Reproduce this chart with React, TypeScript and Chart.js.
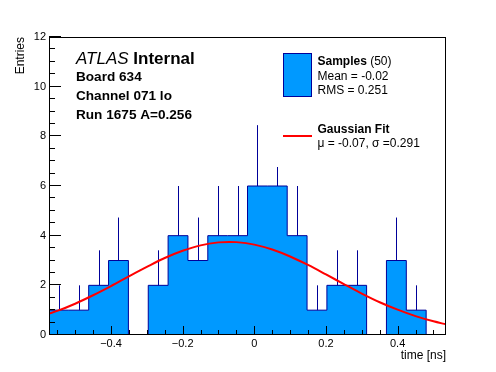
import React, { useEffect, useRef } from "react";
import { Chart, registerables } from "chart.js";

Chart.register(...registerables);

// ---- Data ----
const binEdges = [
  -0.573, -0.5176, -0.4622, -0.4068, -0.3514, -0.296, -0.2406, -0.1852, -0.1298, -0.0744,
  -0.019, 0.0364, 0.0918, 0.1472, 0.2026, 0.258, 0.3134, 0.3688, 0.4242, 0.4796, 0.535,
];
const counts = [1, 1, 2, 3, 0, 2, 4, 3, 4, 4, 6, 6, 4, 1, 2, 2, 0, 3, 1, 0];
const errUp = [1, 1, 1.41, 1.73, 0, 1.41, 2, 1.73, 2, 2, 2.45, 2.45, 2, 1, 1.41, 1.41, 0, 1.73, 1, 0];

const fitX = [
  -0.573, -0.55, -0.5, -0.45, -0.4, -0.35, -0.3, -0.25, -0.2, -0.15, -0.1, -0.07, -0.05,
  0.0, 0.05, 0.1, 0.15, 0.2, 0.25, 0.3, 0.35, 0.4, 0.45, 0.5, 0.535,
];
const fitY = [
  0.86, 0.97, 1.26, 1.6, 1.97, 2.36, 2.74, 3.1, 3.39, 3.61, 3.73, 3.75, 3.74,
  3.64, 3.44, 3.16, 2.82, 2.44, 2.05, 1.67, 1.32, 1.02, 0.76, 0.55, 0.43,
];

const xTickValues = [-0.4, -0.2, 0, 0.2, 0.4];
const yTickValues = [0, 2, 4, 6, 8, 10, 12];
const xMin = -0.573;
const xMax = 0.535;
const yMin = 0;
const yMax = 12;
const xMinorStep = 0.05;
const yMinorStep = 0.5;

const xTitle = "time [ns]";
const yTitle = "Entries";
const atlasLabel = "ATLAS";
const atlasSub = "Internal";
const infoLines = ["Board 634", "Channel 071 lo", "Run 1675 A=0.256"];
const legendHistName = "Samples";
const legendHistCount = "(50)";
const legendHistStats = ["Mean = -0.02", "RMS = 0.251"];
const legendFitName = "Gaussian Fit";
const legendFitStats = "\u03BC = -0.07, \u03C3 =0.291";

// ---- Style ----
const FONT = "'Liberation Sans', Arial, Helvetica, sans-serif";
const FILL = "#0099ff";
const EDGE = "#000099";
const RED = "#ff0000";

const rootPlugin = {
  id: "rootStyle",
  afterDatasetDraw(chart: any, args: any) {
    if (args.index !== 1) return;
    const { ctx } = chart;
    const x = chart.scales.x;
    const y = chart.scales.y;
    ctx.save();
    ctx.strokeStyle = EDGE;
    ctx.lineWidth = 1;
    counts.forEach((c, i) => {
      if (errUp[i] <= 0) return;
      const cx = Math.round(x.getPixelForValue((binEdges[i] + binEdges[i + 1]) / 2)) + 0.5;
      ctx.beginPath();
      ctx.moveTo(cx, y.getPixelForValue(c));
      ctx.lineTo(cx, y.getPixelForValue(c + errUp[i]));
      ctx.stroke();
    });
    ctx.restore();
  },
  afterDraw(chart: any) {
    const { ctx, chartArea } = chart;
    const x = chart.scales.x;
    const y = chart.scales.y;
    const { left, right, top, bottom } = chartArea;
    ctx.save();

    // Legend background (white box covering what lies beneath)
    ctx.fillStyle = "#ffffff";
    ctx.fillRect(272, 44, 168, 123);

    // Frame
    ctx.strokeStyle = "#000000";
    ctx.lineWidth = 1;
    ctx.strokeRect(Math.round(left) + 0.5, Math.round(top) + 0.5, Math.round(right - left) - 1, Math.round(bottom - top) - 1);

    // Y ticks
    const yMajLen = 12;
    const yMinLen = 6;
    ctx.beginPath();
    for (let v = yMin; v <= yMax + 1e-9; v += yMinorStep) {
      const isMajor = yTickValues.some((t) => Math.abs(t - v) < 1e-6);
      const py = Math.round(y.getPixelForValue(v)) - 0.5;
      ctx.moveTo(left, py);
      ctx.lineTo(left + (isMajor ? yMajLen : yMinLen), py);
    }
    // X ticks
    const xMajLen = 9;
    const xMinLen = 5;
    const start = Math.ceil(xMin / xMinorStep) * xMinorStep;
    for (let v = start; v <= xMax + 1e-9; v += xMinorStep) {
      const isMajor = xTickValues.some((t) => Math.abs(t - v) < 1e-6);
      const px = Math.round(x.getPixelForValue(v)) + 0.5;
      ctx.moveTo(px, bottom);
      ctx.lineTo(px, bottom - (isMajor ? xMajLen : xMinLen));
    }
    ctx.stroke();

    // Axis titles
    ctx.fillStyle = "#000000";
    ctx.font = `12px ${FONT}`;
    ctx.textAlign = "right";
    ctx.textBaseline = "alphabetic";
    ctx.fillText(xTitle, right, 359);
    ctx.save();
    ctx.translate(24, top);
    ctx.rotate(-Math.PI / 2);
    ctx.textAlign = "right";
    ctx.fillText(yTitle, 0, 0);
    ctx.restore();

    // ATLAS label block
    ctx.textAlign = "left";
    ctx.font = `italic 17px ${FONT}`;
    ctx.fillText(atlasLabel, 76, 64);
    const w = ctx.measureText(atlasLabel + " ").width;
    ctx.font = `bold 17px ${FONT}`;
    ctx.fillText(atlasSub, 76 + w, 64);
    ctx.font = `bold 13.6px ${FONT}`;
    const infoBase = [81, 99.5, 118.5];
    infoLines.forEach((t, i) => ctx.fillText(t, 76, infoBase[i]));

    // Legend entry 1: histogram
    ctx.fillStyle = FILL;
    ctx.fillRect(283, 53, 29, 44);
    ctx.strokeStyle = EDGE;
    ctx.strokeRect(283.5, 53.5, 28, 43);
    ctx.fillStyle = "#000000";
    ctx.font = `bold 12px ${FONT}`;
    ctx.fillText(legendHistName, 317.5, 65);
    const nw = ctx.measureText(legendHistName + " ").width;
    ctx.font = `12px ${FONT}`;
    ctx.fillText(legendHistCount, 317.5 + nw, 65);
    ctx.fillText(legendHistStats[0], 317.5, 79.5);
    ctx.fillText(legendHistStats[1], 317.5, 94);

    // Legend entry 2: fit
    ctx.fillStyle = RED;
    ctx.fillRect(283, 135, 29, 2);
    ctx.fillStyle = "#000000";
    ctx.font = `bold 12px ${FONT}`;
    ctx.fillText(legendFitName, 317.5, 133);
    ctx.font = `12px ${FONT}`;
    ctx.fillText(legendFitStats, 317.5, 146.5);

    ctx.restore();
  },
};

export default function App() {
  const canvasRef = useRef<HTMLCanvasElement | null>(null);

  useEffect(() => {
    if (!canvasRef.current) return;

    const histPoints: { x: number; y: number }[] = [{ x: binEdges[0], y: 0 }];
    counts.forEach((c, i) => histPoints.push({ x: binEdges[i], y: c }));
    histPoints.push({ x: binEdges[counts.length], y: counts[counts.length - 1] });
    histPoints.push({ x: binEdges[counts.length], y: 0 });

    const fitPoints = fitX.map((v, i) => ({ x: v, y: fitY[i] }));

    const chart = new Chart(canvasRef.current, {
      type: "line",
      data: {
        datasets: [
          {
            label: "Gaussian Fit",
            data: fitPoints,
            borderColor: RED,
            borderWidth: 2,
            pointRadius: 0,
            fill: false,
            tension: 0.4,
            cubicInterpolationMode: "monotone",
          },
          {
            label: "Samples",
            data: histPoints,
            borderColor: EDGE,
            backgroundColor: FILL,
            borderWidth: 1,
            pointRadius: 0,
            stepped: "before",
            fill: "origin",
          },
        ],
      } as any,
      plugins: [rootPlugin as any],
      options: {
        animation: false,
        responsive: true,
        maintainAspectRatio: false,
        layout: { padding: { top: 37, right: 50, left: 0, bottom: 0 } },
        plugins: { legend: { display: false }, tooltip: { enabled: false } },
        events: [],
        scales: {
          x: {
            type: "linear",
            min: xMin,
            max: xMax,
            grid: { display: false, drawTicks: false },
            border: { display: false },
            afterBuildTicks: (scale: any) => {
              scale.ticks = xTickValues.map((v) => ({ value: v }));
            },
            afterFit: (scale: any) => {
              scale.height = 37;
            },
            ticks: {
              padding: 2,
              color: "#000000",
              font: { family: FONT, size: 11 },
              maxRotation: 0,
              autoSkip: false,
              callback: (v: any) => {
                const n = Number(v);
                if (Math.abs(n) < 1e-9) return "0";
                const s = Math.abs(n).toFixed(1);
                return n < 0 ? "\u2212" + s : s;
              },
            },
          },
          y: {
            type: "linear",
            min: yMin,
            max: yMax,
            grid: { display: false, drawTicks: false },
            border: { display: false },
            afterBuildTicks: (scale: any) => {
              scale.ticks = yTickValues.map((v) => ({ value: v }));
            },
            afterFit: (scale: any) => {
              scale.width = 49;
            },
            ticks: {
              padding: 3,
              color: "#000000",
              font: { family: FONT, size: 11 },
              autoSkip: false,
              callback: (v: any) => String(v),
            },
          },
        },
      } as any,
    });

    return () => chart.destroy();
  }, []);

  return (
    <div style={{ position: "fixed", left: 0, top: 0, width: 496, height: 372, background: "#ffffff" }}>
      <canvas ref={canvasRef} />
    </div>
  );
}
